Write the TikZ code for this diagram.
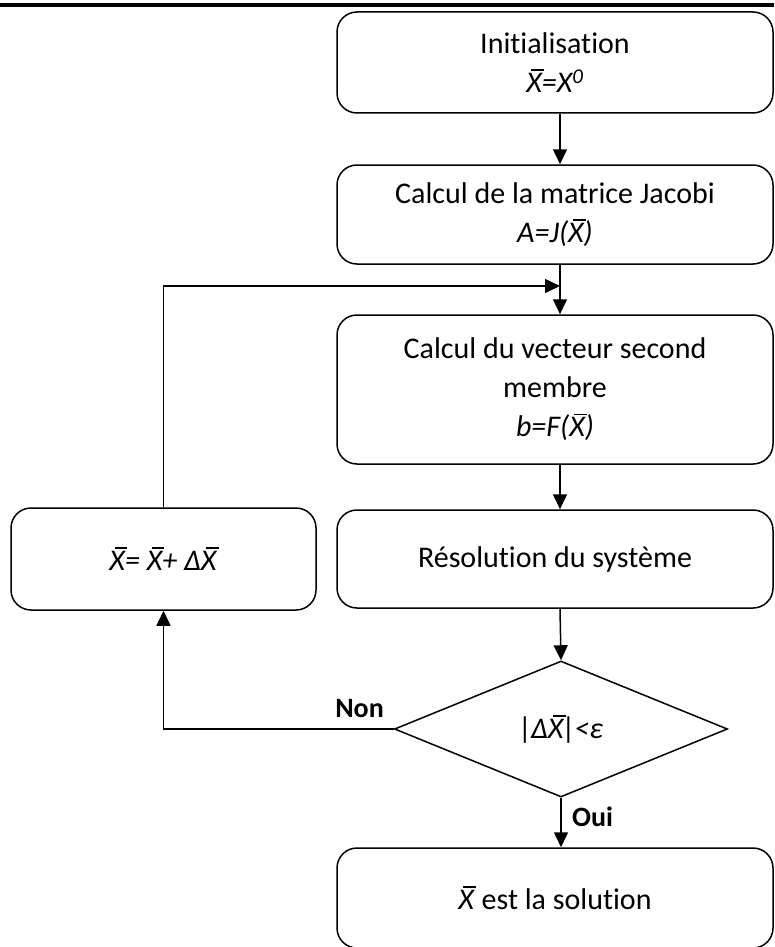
\documentclass[tikz,border=0pt]{standalone}
\usepackage{fontspec}
\setmainfont{Carlito}[Ligatures=NoCommon]
\usetikzlibrary{shapes.geometric,arrows.meta}
% italic X with a bar above it
\newcommand\xbar{\makebox[0pt][l]{\hspace{0.17em}\rule[0.72em]{0.42em}{0.05em}}X}
\begin{document}
\begin{tikzpicture}[x=1pt,y=-1pt,
  box/.style={draw,line width=1.5pt,rounded corners=20pt,minimum width=436pt,
    inner sep=0pt,align=center,font=\fontsize{30}{39}\selectfont},
  decision/.style={draw,diamond,line width=1.5pt,minimum width=333pt,minimum height=136pt,
    inner sep=0pt,align=center,font=\fontsize{30}{39}\selectfont},
  link/.style={line width=1.5pt},
  arr/.style={link,-{Triangle[length=15pt,width=14pt]}},
  lab/.style={font=\fontsize{28}{32}\selectfont\bfseries,inner sep=0pt}]
\useasboundingbox (0,0) rectangle (774,947);
\draw[line width=3.5pt] (0,5) -- (774,5);

\node[box,minimum height=101pt] (b1) at (555,62.5)
  {Initialisation\\ \textit{\xbar=X\textsuperscript{0}}};
\node[box,minimum height=99pt] (b2) at (555,214.5)
  {Calcul de la matrice Jacobi\\ \textit{A=J(\xbar)}};
\node[box,minimum height=149pt] (b3) at (555,389.5)
  {Calcul du vecteur second\\ membre\\ \textit{b=F(\xbar)}};
\node[box,minimum height=98pt] (b4) at (555,559)
  {Résolution du système};
\node[box,minimum width=305pt,minimum height=102pt] (up) at (163.5,559)
  {\textit{\xbar= \xbar+ Δ\xbar}};
\node[decision] (d) at (561,729) {\textit{|\kern-0.06emΔ\xbar\kern-0.04em|\kern-0.06em<ε}};
\node[box,minimum height=100pt] (b5) at (555,898)
  {\textit{\xbar} est la solution};

\coordinate (j) at (560,286);

\draw[arr] (b1.south -| j) -- (b2.north -| j);
\draw[arr] (b2.south -| j) -- (b3.north -| j);
\draw[arr] (up.north) |- (j);
\draw[arr] (b3.south -| j) -- (b4.north -| j);
\draw[arr] (b4.south -| j) -- (d.north);
\draw[arr] (d.west) -| (up.south);
\draw[arr] (d.south) -- (b5.north -| d.south);

\node[lab,anchor=base east] (non) at (384,717) {Non};
\node[lab,anchor=base west] (oui) at (572,826) {Oui};
\end{tikzpicture}
\end{document}
